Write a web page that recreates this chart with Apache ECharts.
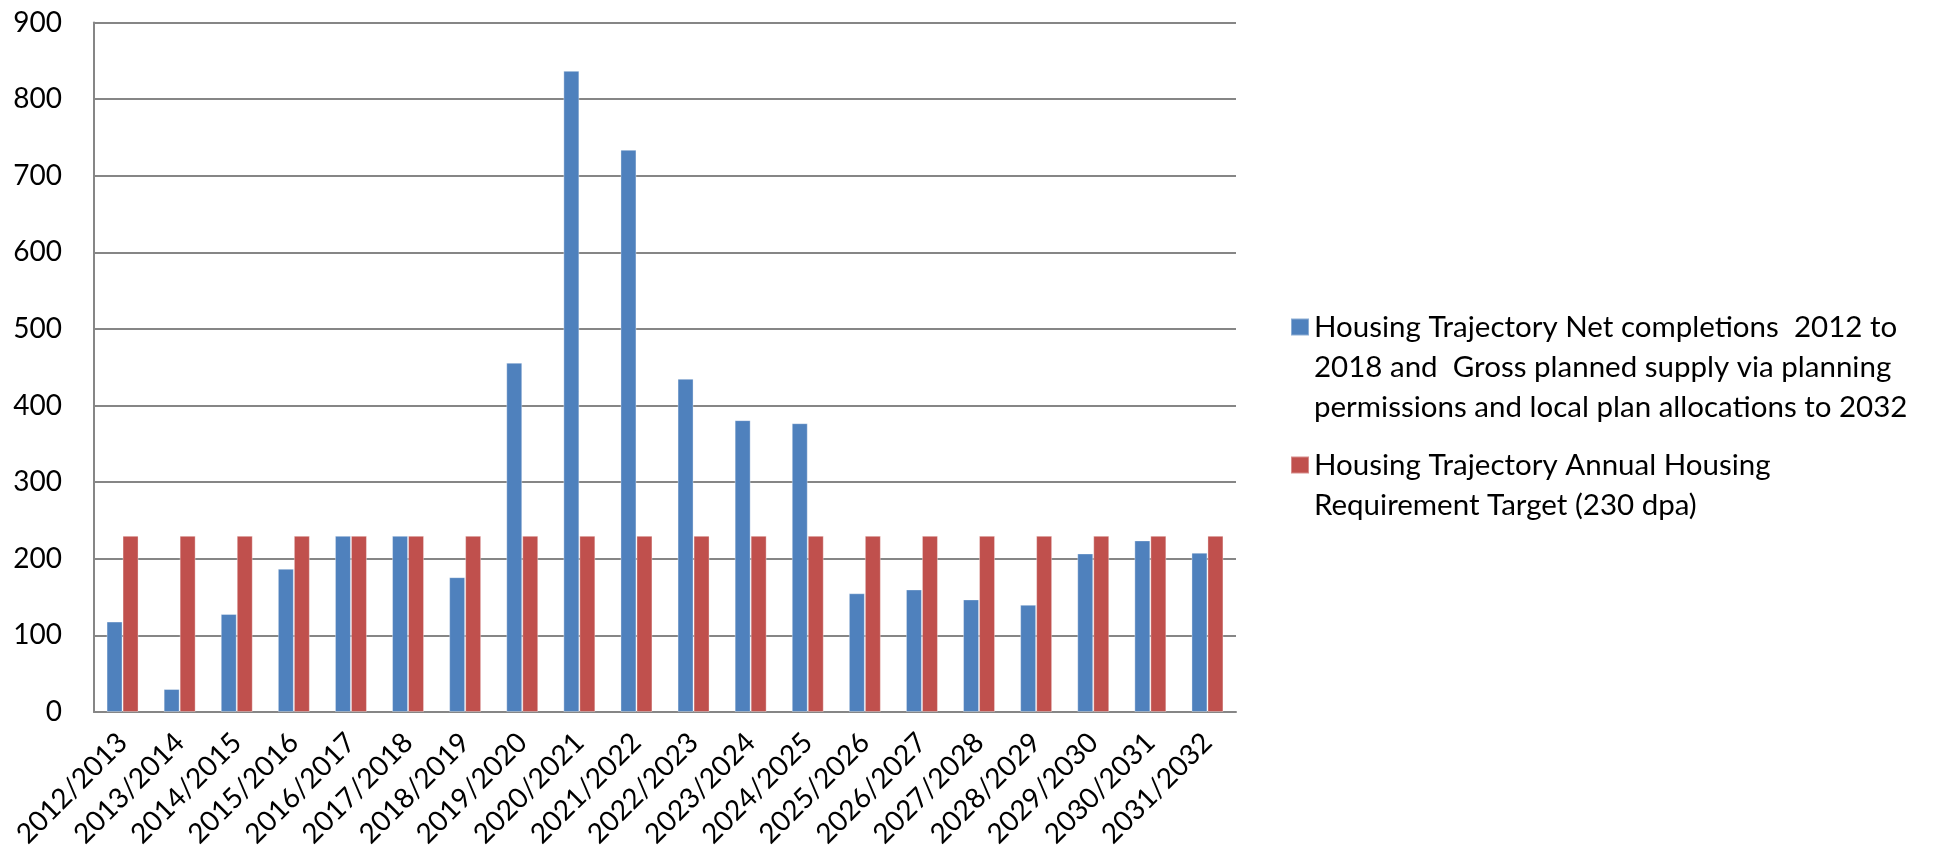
<!DOCTYPE html>
<html>
<head>
<meta charset="utf-8">
<script src="https://cdn.jsdelivr.net/npm/echarts@6/dist/echarts.min.js"></script>
<style>
html,body{margin:0;padding:0;background:#fff;}
#chart{width:1953px;height:860px;}
</style>
</head>
<body>
<div id="chart"></div>
<script>
const categories = ["2012/2013","2013/2014","2014/2015","2015/2016","2016/2017","2017/2018","2018/2019","2019/2020","2020/2021","2021/2022","2022/2023","2023/2024","2024/2025","2025/2026","2026/2027","2027/2028","2028/2029","2029/2030","2030/2031","2031/2032"];
const supplyValues = [118,30,128,187,230,230,176,456,837,734,435,381,377,155,160,147,140,207,224,208];
const targetValues = [230,230,230,230,230,230,230,230,230,230,230,230,230,230,230,230,230,230,230,230];
const supplyName = "Housing Trajectory Net completions  2012 to 2018 and  Gross planned supply via planning permissions and local plan allocations to 2032";
const targetName = "Housing Trajectory Annual Housing Requirement Target (230 dpa)";
const supplyLines = ["Housing Trajectory Net completions  2012 to","2018 and  Gross planned supply via planning","permissions and local plan allocations to 2032"];
const targetLines = ["Housing Trajectory Annual Housing","Requirement Target (230 dpa)"];
const yTicks = {min:0, max:900, interval:100};

const FONT = "Lato";
const chart = echarts.init(document.getElementById('chart'));
const legendText = {color:'#000', fontSize:29.5, lineHeight:40, fontFamily:FONT};
chart.setOption({
  animation:false,
  backgroundColor:'#fff',
  color:['#4F81BD','#C0504D'],
  grid:{left:94, right:717, top:22.6, bottom:148, containLabel:false},
  legend:[
    {
      data:[supplyName], orient:'vertical', left:1290, top:227, padding:0,
      itemWidth:18, itemHeight:17, icon:'rect', textStyle:legendText,
      formatter:function(){ return "\n\n" + supplyLines.join("\n"); }
    },
    {
      data:[targetName], orient:'vertical', left:1290, top:405, padding:0,
      itemWidth:18, itemHeight:17, icon:'rect', textStyle:legendText,
      formatter:function(){ return "\n" + targetLines.join("\n"); }
    }
  ],
  xAxis:{
    type:'category', data:categories,
    axisLine:{show:true, lineStyle:{color:'#868686', width:2}},
    axisTick:{show:false},
    axisLabel:{rotate:45, margin:26, color:'#000', fontSize:28, fontFamily:FONT, interval:0}
  },
  yAxis:{
    type:'value', min:yTicks.min, max:yTicks.max, interval:yTicks.interval,
    axisLine:{show:true, lineStyle:{color:'#868686', width:2}},
    axisTick:{show:false},
    splitLine:{show:true, lineStyle:{color:'#868686', width:2}},
    axisLabel:{margin:32, color:'#000', fontSize:28, fontFamily:FONT}
  },
  series:[
    {name:supplyName, type:'bar', data:supplyValues, barGap:'0%', barCategoryGap:'44%',
     itemStyle:{borderColor:'rgba(255,255,255,0.35)', borderWidth:1}},
    {name:targetName, type:'bar', data:targetValues, barGap:'0%', barCategoryGap:'44%',
     itemStyle:{borderColor:'rgba(255,255,255,0.35)', borderWidth:1}}
  ]
});
</script>
</body>
</html>
